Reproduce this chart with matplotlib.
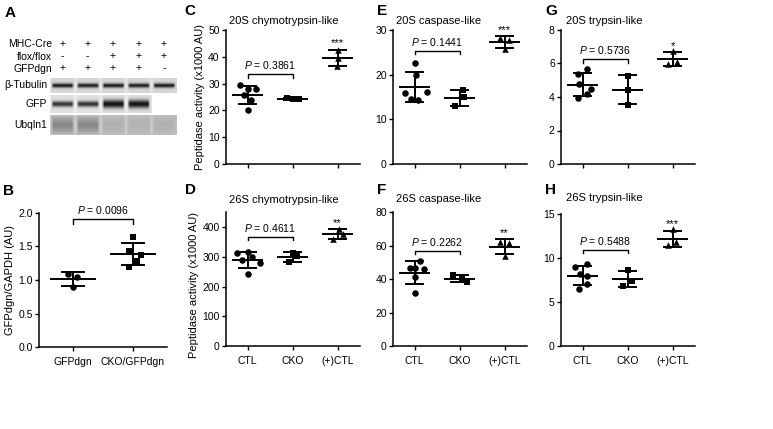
import numpy as np
import matplotlib
matplotlib.use("Agg")
import matplotlib.pyplot as plt

plt.rcParams['font.family'] = ['Liberation Sans', 'DejaVu Sans']
plt.rcParams['mathtext.fontset'] = 'custom'
plt.rcParams['mathtext.rm'] = 'Liberation Sans'
plt.rcParams['mathtext.it'] = 'Liberation Sans:italic'

W, H = 773, 429

# ------------------------- data -------------------------
# Panel A (western blot)
geno_rows = ["MHC-Cre", "flox/flox", "GFPdgn"]
geno_signs = [["+", "+", "+", "+", "+"],
              ["-", "-", "+", "+", "+"],
              ["+", "+", "+", "+", "-"]]
blot_rows = ["\u03b2-Tubulin", "GFP", "Ubqln1"]
tubulin_band = [0.90, 0.88, 0.90, 0.88, 0.90]
gfp_band = [0.80, 0.82, 0.97, 0.97]
ubqln1_band = [0.32, 0.32, 0.07, 0.06, 0.07]

# Panel B
b_groups = ["GFPdgn", "CKO/GFPdgn"]
b_gfpdgn = [1.09, 1.05, 0.89]
b_cko = [1.64, 1.44, 1.37, 1.28, 1.20]
b_pval = "0.0096"

# Panels C-H
groups = ["CTL", "CKO", "(+)CTL"]
c_ctl = [29.3, 28.0, 27.8, 25.6, 23.9, 20.2]
c_cko = [24.5, 24.2, 24.1]
c_pos = [42.7, 39.5, 36.4]
d_ctl = [313, 316, 300, 290, 280, 242]
d_cko = [315, 302, 283]
d_pos = [395, 378, 362]
e_ctl = [22.5, 20.0, 16.2, 15.8, 14.6, 14.4]
e_cko = [16.6, 15.0, 13.0]
e_pos = [28.3, 27.8, 25.7]
f_ctl = [51.0, 47.0, 46.5, 46.0, 41.5, 31.5]
f_cko = [42.5, 40.2, 38.3]
f_pos = [62.5, 61.5, 54.2]
g_ctl = [5.65, 5.40, 4.75, 4.45, 4.15, 3.95]
g_cko = [5.28, 4.43, 3.55]
g_pos = [6.75, 6.10, 5.95]
h_ctl = [9.3, 9.0, 8.1, 7.9, 7.0, 6.5]
h_cko = [8.55, 7.40, 6.75]
h_pos = [13.2, 11.75, 11.4]

pvals = ["0.3861", "0.4611", "0.1441", "0.2262", "0.5736", "0.5488"]
stars = ["***", "**", "***", "**", "*", "***"]
titles = ["20S chymotrypsin-like", "26S chymotrypsin-like",
          "20S caspase-like", "26S caspase-like",
          "20S trypsin-like", "26S trypsin-like"]

# ------------------------- layout -------------------------
def rect(l, t, r, b):
    return [l / W, 1 - b / H, (r - l) / W, (b - t) / H]

# horizontal jitter of points (layout only)
jit = {
    'b': ([-0.08, 0.07, 0.0], [0.0, -0.07, 0.13, 0.07, -0.07]),
    'c': ([-0.16, 0.0, 0.18, -0.08, 0.08, 0.0], [-0.12, 0.0, 0.14], [0.0, 0.02, -0.02]),
    'd': ([-0.24, 0.0, 0.10, -0.12, 0.27, 0.0], [0.0, 0.10, -0.07], [0.03, 0.13, -0.10]),
    'e': ([0.02, 0.03, 0.27, -0.22, -0.08, 0.08], [0.07, 0.11, -0.10], [-0.09, 0.10, 0.0]),
    'f': ([0.11, -0.10, 0.0, 0.20, 0.0, 0.0], [-0.15, 0.05, 0.17], [-0.09, 0.10, 0.0]),
    'g': ([0.09, -0.10, -0.07, 0.18, 0.09, -0.10], [0.0, 0.0, 0.0], [0.0, 0.09, -0.10]),
    'h': ([0.09, -0.17, -0.06, 0.10, 0.09, -0.07], [0.0, 0.09, -0.10], [0.0, 0.07, -0.10]),
}

panels = [
    dict(key='c', data=(c_ctl, c_cko, c_pos), rect=rect(226, 30, 360, 164), ylim=50,
         yticks=[0, 10, 20, 30, 40, 50], br=33.4, labels=False, letter='C',
         lx=190, ly=11, tx=229, ty=21),
    dict(key='d', data=(d_ctl, d_cko, d_pos), rect=rect(226, 212.5, 360, 346), ylim=450,
         yticks=[0, 100, 200, 300, 400], br=369, labels=True, letter='D',
         lx=190, ly=190, tx=229, ty=200),
    dict(key='e', data=(e_ctl, e_cko, e_pos), rect=rect(393, 30, 527, 164), ylim=30,
         yticks=[0, 10, 20, 30], br=25.4, labels=False, letter='E',
         lx=382, ly=11, tx=396, ty=21),
    dict(key='f', data=(f_ctl, f_cko, f_pos), rect=rect(393, 212.5, 527, 346), ylim=80,
         yticks=[0, 20, 40, 60, 80], br=57, labels=True, letter='F',
         lx=382, ly=190, tx=396, ty=199),
    dict(key='g', data=(g_ctl, g_cko, g_pos), rect=rect(561, 30, 695, 164), ylim=8,
         yticks=[0, 2, 4, 6, 8], br=6.25, labels=False, letter='G',
         lx=551, ly=11, tx=566, ty=21),
    dict(key='h', data=(h_ctl, h_cko, h_pos), rect=rect(561, 213.5, 695, 346), ylim=15,
         yticks=[0, 5, 10, 15], br=10.9, labels=True, letter='H',
         lx=551, ly=190, tx=566, ty=198),
]

FS = 7.5
LW = 1.4

fig = plt.figure(figsize=(W / 100, H / 100), dpi=100)


def style_axes(ax):
    for s in ['top', 'right']:
        ax.spines[s].set_visible(False)
    for s in ['left', 'bottom']:
        ax.spines[s].set_linewidth(1.1)
    ax.tick_params(direction='out', length=3, width=1.0, labelsize=FS, pad=1.5)
    ax.tick_params(axis='x', pad=4)
    ax.patch.set_alpha(0)


def draw_group(ax, x, vals, offs, marker, mean_hw, cap_hw):
    vals = np.asarray(vals, float)
    m = vals.mean()
    sd = vals.std(ddof=1)
    ax.scatter(x + np.asarray(offs), vals, marker=marker, s=22, color='black',
               zorder=3, linewidths=0)
    ax.plot([x - mean_hw, x + mean_hw], [m, m], color='black', lw=LW, zorder=2)
    ax.plot([x, x], [m - sd, m + sd], color='black', lw=LW, zorder=2)
    for yy in (m - sd, m + sd):
        ax.plot([x - cap_hw, x + cap_hw], [yy, yy], color='black', lw=LW, zorder=2)
    return m, sd


def bracket(ax, x0, x1, y, leg, ptxt):
    ax.plot([x0, x0, x1, x1], [y - leg, y, y, y - leg], color='black', lw=1.0,
            clip_on=False)
    ax.annotate(r"$P$ = " + ptxt, xy=((x0 + x1) / 2, y), xytext=(0, 6.5),
                textcoords='offset points', ha='center', va='center', fontsize=FS,
                annotation_clip=False)


# ------------------------- Panels C-H -------------------------
markers = ['o', 's', '^']
for i, p in enumerate(panels):
    ax = fig.add_axes(p['rect'])
    style_axes(ax)
    ax.set_xlim(-0.48, 2.5)
    ax.set_ylim(0, p['ylim'])
    ax.set_yticks(p['yticks'])
    ax.set_xticks(range(3))
    if p['labels']:
        ax.set_xticklabels(groups, fontsize=FS)
    else:
        ax.set_xticklabels([])
    tops = []
    for gi in range(3):
        m, sd = draw_group(ax, gi, p['data'][gi], jit[p['key']][gi], markers[gi], 0.33, 0.19)
        tops.append(m + sd)
    bracket(ax, 0, 1, p['br'], p['ylim'] * 0.025, pvals[i])
    ax.annotate(stars[i], xy=(2, tops[2]), xytext=(0, 2.2), textcoords='offset points',
                ha='center', va='baseline', fontsize=8, annotation_clip=False)
    fig.text(p['tx'] / W, 1 - p['ty'] / H, titles[i], ha='left', va='center', fontsize=8)
    fig.text(p['lx'] / W, 1 - p['ly'] / H, p['letter'], ha='center', va='center',
             fontsize=11, fontweight='bold')

fig.text(200 / W, 1 - 97 / H, "Peptidase activity (x1000 AU)", rotation=90,
         ha='center', va='center', fontsize=8)
fig.text(194 / W, 1 - 285 / H, "Peptidase activity (x1000 AU)", rotation=90,
         ha='center', va='center', fontsize=8)

# ------------------------- Panel B -------------------------
axb = fig.add_axes(rect(39, 213, 167, 347))
style_axes(axb)
axb.set_xlim(-0.567, 1.567)
axb.set_ylim(0, 2.0)
axb.set_yticks([0, 0.5, 1.0, 1.5, 2.0])
axb.set_yticklabels(["0.0", "0.5", "1.0", "1.5", "2.0"])
axb.set_xticks([0, 1])
axb.set_xticklabels(b_groups, fontsize=FS)
draw_group(axb, 0, b_gfpdgn, jit['b'][0], 'o', 0.37, 0.18)
draw_group(axb, 1, b_cko, jit['b'][1], 's', 0.37, 0.18)
bracket(axb, 0, 1, 1.91, 0.08, b_pval)
fig.text(10 / W, 1 - 280 / H, "GFPdgn/GAPDH (AU)", rotation=90, ha='center',
         va='center', fontsize=8)
fig.text(8 / W, 1 - 191 / H, "B", ha='center', va='center', fontsize=11,
         fontweight='bold')

# ------------------------- Panel A (blot) -------------------------
fig.text(10 / W, 1 - 13 / H, "A", ha='center', va='center', fontsize=11,
         fontweight='bold')
axa = fig.add_axes([0, 0, 1, 1], zorder=-1)
axa.set_xlim(0, W)
axa.set_ylim(H, 0)
axa.axis('off')

bx0, lane_w = 49.5, 25.4
lane_c = [bx0 + lane_w * (k + 0.5) for k in range(5)]
row_y = [44, 56.5, 68.5]
for r, name in enumerate(geno_rows):
    axa.text(52, row_y[r], name, ha='right', va='center', fontsize=7.5)
    for k, sgn in enumerate(geno_signs[r]):
        axa.text(lane_c[k], row_y[r], sgn, ha='center', va='center', fontsize=7.5)

strips = [  # (intensities, y0, y1, band centre, band sigma per lane, bg)
    (tubulin_band, 78, 93, 85.5, [1.6] * 5, 0.84),
    (gfp_band, 95, 113, 104, [2.0, 2.0, 2.9, 2.9], 0.88),
    (ubqln1_band, 115, 135, 125, [4.0] * 5, 0.74),
]
label_y = [85.5, 104, 125]
for si, (vals, y0, y1, yc, sig, bg) in enumerate(strips):
    n = len(vals)
    x1 = bx0 + lane_w * n
    ys = np.arange(y0, y1) + 0.5
    xs = np.arange(bx0, x1) + 0.5
    img = np.full((len(ys), len(xs)), bg)
    for k, v in enumerate(vals):
        dx = np.abs(xs - lane_c[k])
        hprof = np.clip((11.5 - dx) / 2.5, 0, 1)
        vprof = np.exp(-0.5 * ((ys - yc) / sig[k]) ** 2)
        if si == 2:
            vprof = np.clip(1 - np.abs(ys - yc) / 9.0, 0, 1) ** 0.6
        img -= np.outer(vprof, hprof) * v * (bg - 0.05)
        sep = np.exp(-0.5 * ((xs - (bx0 + lane_w * k)) / 0.8) ** 2) * 0.06
        img += sep[None, :]
    img = np.clip(img, 0, 1)
    axa.imshow(img, cmap='gray', vmin=0, vmax=1, extent=(bx0, x1, y1, y0),
               interpolation='bilinear', aspect='auto')
    axa.text(47, label_y[si], blot_rows[si], ha='right', va='center', fontsize=7.5)

fig.savefig("out.png", dpi=100)
